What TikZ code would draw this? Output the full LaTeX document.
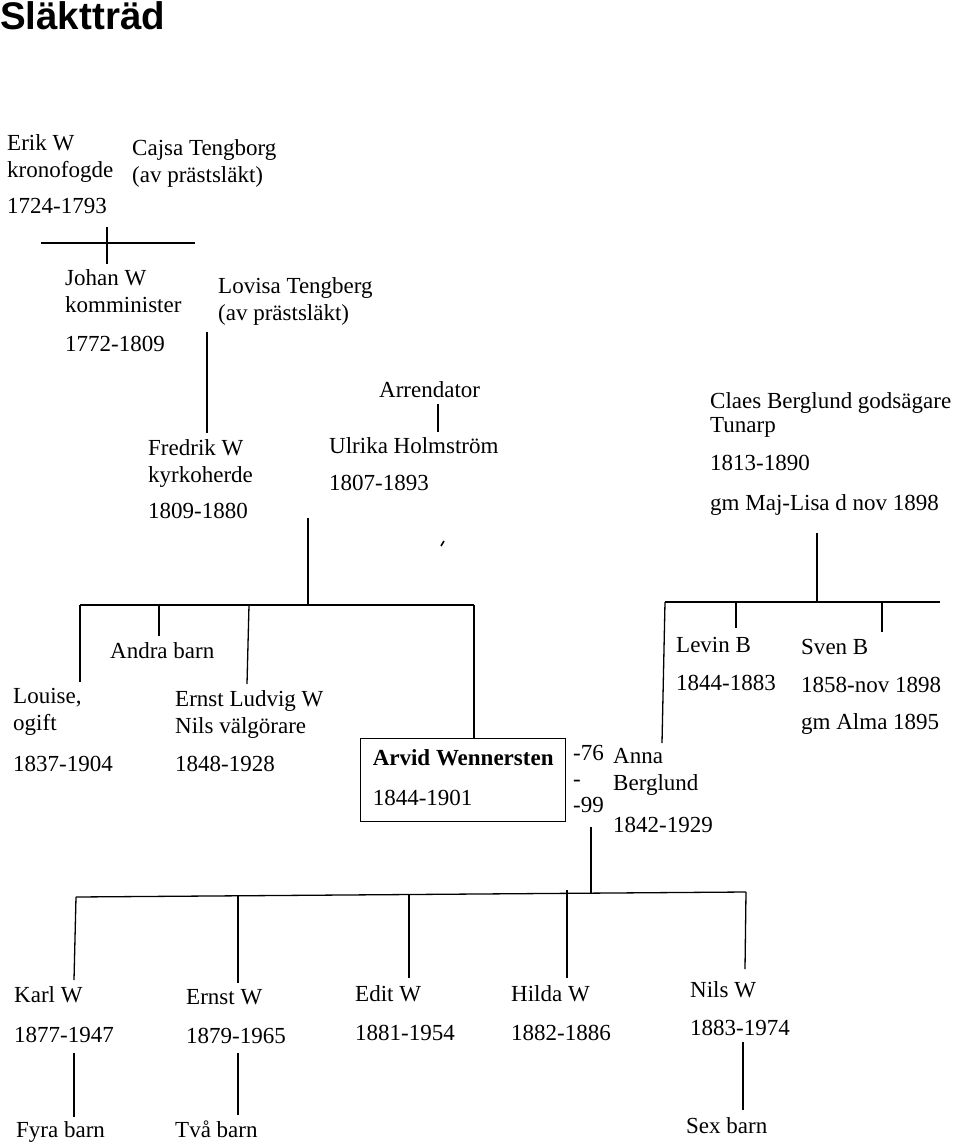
\documentclass[tikz,border=0pt]{standalone}
\usepackage{fontspec}
\setmainfont{Liberation Serif}
\newfontfamily\titlefont{Liberation Sans}
\usetikzlibrary{positioning}
\newcommand{\rows}[1]{\begin{tabular}[t]{@{}l@{}}#1\end{tabular}}
\tikzset{
  person/.style={anchor=base west,inner sep=0pt,font=\fontsize{23}{27}\selectfont},
  heading/.style={anchor=base west,inner sep=0pt,font=\titlefont\bfseries\fontsize{38.5}{40}\selectfont},
  mainbox/.style={draw=black,line width=1.3pt,minimum width=205pt,minimum height=82pt,inner xsep=11pt,inner ysep=8pt,font=\fontsize{23}{27}\selectfont},
  line/.style={draw=black,line width=1.3pt}
}
\begin{document}
\begin{tikzpicture}[x=1pt,y=-1pt]
  \useasboundingbox (0,0) rectangle (960,1145);
  \node (title) [heading] at (0,30) {Släktträd};

  % generation 1 and 2
  \node (erik) [person] at (7,150) {\rows{Erik W\\kronofogde\\[9pt]1724-1793}};
  \node (cajsa) [person] at (132,155) {\rows{Cajsa Tengborg\\(av prästsläkt)}};
  \node (johan) [person] at (65,285) {\rows{Johan W\\komminister\\[12pt]1772-1809}};
  \node (lovisa) [person] at (218,293) {\rows{Lovisa Tengberg\\(av prästsläkt)}};
  \coordinate (bar1w) at (41,243);
  \coordinate (bar1e) at (195,243);
  \coordinate (wed1) at (107,227);
  \coordinate (kid1) at (107,264);
  \draw[line] (bar1w) -- (bar1e);
  \draw[line] (wed1) -- (kid1);

  % generation 3
  \node (fredrik) [person] at (148,455) {\rows{Fredrik W\\kyrkoherde\\[9pt]1809-1880}};
  \node (arrendator) [person] at (379,397) {Arrendator};
  \node (ulrika) [person] at (329,453) {\rows{Ulrika Holmström\\[10pt]1807-1893}};
  \node (claes) [person] at (710,408) {\rows{Claes Berglund godsägare\\[-3pt]Tunarp\\[11pt]1813-1890\\[13pt]gm Maj-Lisa d nov 1898}};
  \coordinate (wed2) at (207,332);
  \coordinate (kid2) at (207,433);
  \draw[line] (wed2) -- (kid2);
  \coordinate (arr) at (438,404);
  \coordinate (arrkid) at (438,432);
  \draw[line] (arr) -- (arrkid);
  \draw[line,line width=1.6pt] (441,546) -- (444,541);

  % generation 4, Wennersten side
  \coordinate (wed3) at (308,518);
  \coordinate (bar3w) at (80,605);
  \coordinate (bar3e) at (474,605);
  \draw[line] (wed3) -- (308,605);
  \draw[line] (bar3w) -- (bar3e);
  \node (andra) [person] at (110,658) {Andra barn};
  \node (louise) [person] at (13,703) {\rows{Louise,\\ogift\\[14pt]1837-1904}};
  \node (ernstl) [person] at (175,706) {\rows{Ernst Ludvig W\\Nils välgörare\\[11pt]1848-1928}};
  \node (arvid) [mainbox,anchor=north west] at (360,738) {\rows{\textbf{Arvid Wennersten}\\[13pt]1844-1901}};
  \draw[line] (bar3w) -- (80,682);
  \draw[line] (159,605) -- (159,636);
  \draw[line] (249,605) -- (247,684);
  \draw[line] (bar3e) -- (arvid.north -| bar3e);

  % generation 4, Berglund side
  \coordinate (wed4) at (817,533);
  \coordinate (bar4w) at (665,602);
  \coordinate (bar4e) at (940,602);
  \draw[line] (wed4) -- (wed4 |- bar4w);
  \draw[line] (bar4w) -- (bar4e);
  \node (levin) [person] at (676,652) {\rows{Levin B\\[11pt]1844-1883}};
  \node (sven) [person] at (801,654) {\rows{Sven B\\[11pt]1858-nov 1898\\[10pt]gm Alma 1895}};
  \node (married) [person] at (573,760) {\rows{-76\\[-1pt]-\\[-1pt]-99}};
  \node (anna) [person] at (613,763) {\rows{Anna\\Berglund\\[15pt]1842-1929}};
  \draw[line] (bar4w) -- (662,743);
  \draw[line] (736,602) -- (736,628);
  \draw[line] (882,602) -- (882,632);

  % generation 5
  \coordinate (wed5) at (591,827);
  \coordinate (bar5w) at (76,897);
  \coordinate (bar5e) at (746,892);
  \draw[line] (wed5) -- (591,893);
  \draw[line] (bar5w) -- (bar5e);
  \node (karl) [person] at (14,1002) {\rows{Karl W\\[13pt]1877-1947}};
  \node (ernst) [person] at (186,1004) {\rows{Ernst W\\[12pt]1879-1965}};
  \node (edit) [person] at (355,1001) {\rows{Edit W\\[12pt]1881-1954}};
  \node (hilda) [person] at (511,1001) {\rows{Hilda W\\[12pt]1882-1886}};
  \node (nils) [person] at (690,997) {\rows{Nils W\\[11pt]1883-1974}};
  \draw[line] (bar5w) -- (74,980);
  \draw[line] (238,896) -- (238,983);
  \draw[line] (409,895) -- (409,978);
  \draw[line] (567,890) -- (567,978);
  \draw[line] (bar5e) -- (745,969);

  % generation 6
  \node (fyra) [person] at (16,1137) {Fyra barn};
  \node (tva) [person] at (175,1137) {Två barn};
  \node (sex) [person] at (686,1133) {Sex barn};
  \draw[line] (74,1053) -- (74,1117);
  \draw[line] (238,1053) -- (238,1115);
  \draw[line] (743,1042) -- (743,1110);
\end{tikzpicture}
\end{document}
